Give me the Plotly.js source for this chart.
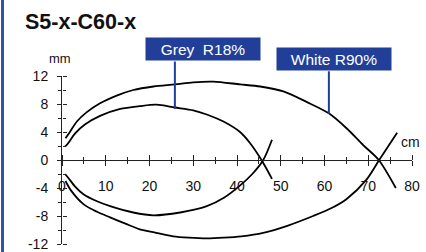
<!DOCTYPE html>
<html>
<head>
<meta charset="utf-8">
<script src="https://cdn.plot.ly/plotly-3.0.1.min.js"></script>
<style>
html,body{margin:0;padding:0;background:#fff;}
#chart{width:426px;height:252px;}
</style>
</head>
<body>
<div id="chart"></div>
<script>
// White R90% beam outline (upper / lower edge), x in cm, y in mm
var whiteUpperX = [0.8, 1.8, 3.4, 5.6, 8.7, 12.5, 16.3, 20.9, 25.8, 30, 34.6, 40.7, 45.3, 50.6, 55.9, 60.9, 65.1, 68.9, 72.4, 76.3];
var whiteUpperY = [3.1, 4.0, 5.5, 6.8, 8.1, 9.2, 10.0, 10.5, 10.8, 11.1, 11.2, 10.8, 10.5, 9.8, 8.3, 6.7, 4.5, 2.1, 0, -4.0];
var whiteLowerX = [0.8, 2, 4.9, 8, 11, 14.5, 17.8, 21.5, 25.4, 29, 33.1, 37, 41, 46, 51.5, 57.4, 61.5, 65, 69.6, 72.5, 76.6];
var whiteLowerY = [-3.0, -4.3, -6.3, -7.4, -8.2, -9.1, -9.9, -10.4, -10.9, -11.1, -11.2, -11.1, -10.9, -10.4, -9.4, -8.0, -6.9, -5.6, -2.8, 0, 3.9];
// Grey R18% beam outline
var greyUpperX = [0.7, 1.4, 3, 5.3, 8.7, 13.3, 17.8, 21.6, 25.8, 30, 33.1, 36.9, 40.7, 43, 45.6, 48];
var greyUpperY = [1.9, 2.4, 3.8, 5.1, 6.3, 7.3, 7.7, 7.9, 7.5, 7.1, 6.5, 5.5, 4.0, 2.4, 0, -2.7];
var greyLowerX = [0.7, 1.5, 3, 4.9, 8, 11, 16.3, 20.9, 27, 33.1, 37, 40.6, 43.5, 46, 48];
var greyLowerY = [-2.0, -2.6, -3.8, -4.9, -5.9, -6.6, -7.5, -7.9, -7.5, -6.6, -5.4, -3.7, -2.0, 0, 2.9];

var xTickVals = [0, 10, 20, 30, 40, 50, 60, 70, 80];
var xTickText = ['0', '10', '20', '30', '40', '50', '60', '70', '80'];
var yTickVals = [12, 8, 4, 0, -4, -8, -12];
var yTickText = ['12', '8', '4', '0', '-4', '-8', '-12'];

var FONT = 'Liberation Sans, Arial, Helvetica, sans-serif';
var BLUE = '#213f99';

function curve(x, y) {
  return {x: x, y: y, type: 'scatter', mode: 'lines',
          line: {color: '#000', width: 1.8, shape: 'spline', smoothing: 0.8},
          hoverinfo: 'skip', showlegend: false};
}
var traces = [
  curve(whiteUpperX, whiteUpperY),
  curve(whiteLowerX, whiteLowerY),
  curve(greyUpperX, greyUpperY),
  curve(greyLowerX, greyLowerY),
  {x: [], y: [], xaxis: 'x2', yaxis: 'y2', type: 'scatter', mode: 'lines', showlegend: false}
];

var tickFont = {family: FONT, size: 14, color: '#111'};
var layout = {
  width: 426, height: 252,
  margin: {l: 62, r: 14, t: 76, b: 8},
  paper_bgcolor: '#fff', plot_bgcolor: '#fff',
  showlegend: false,
  title: {text: '<b>S5-x-C60-x</b>', x: 25/426, xanchor: 'left', xref: 'container',
          y: 1 - 21/252, yanchor: 'middle', yref: 'container',
          font: {family: FONT, size: 21.5, color: '#111'}},
  xaxis: {range: [0, 80], anchor: 'free', position: 0.5, showgrid: false, zeroline: false,
          showline: true, linecolor: '#222', linewidth: 1,
          tickmode: 'array', tickvals: xTickVals, ticktext: xTickText,
          ticks: 'outside', ticklen: 5, tickwidth: 1, tickcolor: '#222',
          ticklabelstandoff: 8, tickfont: tickFont,
          minor: {tickmode: 'linear', tick0: 0, dtick: 5, ticks: 'outside', ticklen: 3, tickwidth: 1, tickcolor: '#222', showgrid: false}},
  xaxis2: {range: [0, 80], overlaying: 'x', side: 'top', anchor: 'free', position: 0.5,
           showgrid: false, zeroline: false, showline: false,
           tickmode: 'array', tickvals: xTickVals, showticklabels: false,
           ticks: 'outside', ticklen: 5, tickwidth: 1, tickcolor: '#222',
           minor: {tickmode: 'linear', tick0: 0, dtick: 5, ticks: 'outside', ticklen: 3, tickwidth: 1, tickcolor: '#222', showgrid: false}},
  yaxis: {range: [-12, 12], showgrid: false, zeroline: false,
          showline: true, linecolor: '#222', linewidth: 1,
          tickmode: 'array', tickvals: yTickVals, ticktext: yTickText,
          ticks: 'outside', ticklen: 4, tickwidth: 1, tickcolor: '#222',
          ticklabelstandoff: 6, tickfont: tickFont,
          minor: {tickmode: 'linear', tick0: 0, dtick: 2, ticks: 'outside', ticklen: 3, tickwidth: 1, tickcolor: '#222', showgrid: false}},
  yaxis2: {range: [-12, 12], overlaying: 'y', side: 'right', anchor: 'free', position: 0,
           showgrid: false, zeroline: false, showline: false,
           tickmode: 'array', tickvals: yTickVals, showticklabels: false,
           ticks: 'outside', ticklen: 4, tickwidth: 1, tickcolor: '#222',
           minor: {tickmode: 'linear', tick0: 0, dtick: 2, ticks: 'outside', ticklen: 3, tickwidth: 1, tickcolor: '#222', showgrid: false}},
  shapes: [
    {type: 'line', xref: 'paper', yref: 'paper', x0: (2.5 - 62)/350, x1: (2.5 - 62)/350,
     y0: -0.2, y1: 1.6, line: {color: '#3552a8', width: 3}}
  ],
  annotations: [
    {text: 'mm', xref: 'paper', yref: 'paper', x: (60 - 62)/350, y: (244 - 59)/168,
     showarrow: false, xanchor: 'center', yanchor: 'middle',
     font: {family: FONT, size: 13, color: '#111'}},
    {text: 'cm', xref: 'paper', yref: 'paper', x: (410 - 62)/350, y: (244 - 142)/168,
     showarrow: false, xanchor: 'center', yanchor: 'middle',
     font: {family: FONT, size: 14, color: '#111'}},
    // leader lines
    {text: '', x: 25.8, y: 7.3, xref: 'x', yref: 'y', showarrow: true, arrowhead: 0,
     arrowwidth: 2, arrowcolor: BLUE, ax: 0, ay: -49, standoff: 0},
    {text: '', x: 61.0, y: 6.6, xref: 'x', yref: 'y', showarrow: true, arrowhead: 0,
     arrowwidth: 2, arrowcolor: BLUE, ax: 0, ay: -44, standoff: 0},
    // label boxes
    {text: 'Grey\u00a0 R18%', xref: 'paper', yref: 'paper', x: (203 - 62)/350, y: (244 - 49)/168,
     showarrow: false, xanchor: 'center', yanchor: 'middle', width: 112, height: 20, borderpad: 1,
     bgcolor: BLUE, align: 'center', valign: 'middle',
     font: {family: FONT, size: 15.5, color: '#fff'}},
    {text: 'White R90%', xref: 'paper', yref: 'paper', x: (334 - 62)/350, y: (244 - 59)/168,
     showarrow: false, xanchor: 'center', yanchor: 'middle', width: 112, height: 20, borderpad: 1,
     bgcolor: BLUE, align: 'center', valign: 'middle',
     font: {family: FONT, size: 15.5, color: '#fff'}}
  ]
};

Plotly.newPlot('chart', traces, layout, {staticPlot: true, displayModeBar: false});
</script>
</body>
</html>
